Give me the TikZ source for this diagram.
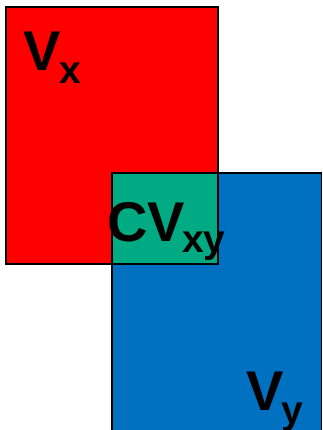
\documentclass[tikz,border=0pt]{standalone}
\usepackage{fontspec}
\setmainfont{Liberation Sans}
\usetikzlibrary{positioning}

\definecolor{setred}{HTML}{FF0000}
\definecolor{setblue}{HTML}{0070C0}
\definecolor{setgreen}{HTML}{00AB84}

\begin{document}
\begin{tikzpicture}[x=1pt, y=-1pt,
    setbox/.style={draw=black, line width=1.5pt},
    big/.style={inner sep=0pt, font=\fontsize{56}{60}\selectfont\bfseries},
    small/.style={inner sep=0pt, font=\fontsize{39}{42}\selectfont\bfseries}]

  \useasboundingbox (0,0) rectangle (322,430);

  %-------------------------
  % Sets
  %-------------------------
  \fill[setred] (6,7) rectangle (218,264);
  \draw[setbox] (6,7) rectangle (218,264);

  \fill[setblue] (112,173) rectangle (321.25,432);
  \draw[setbox] (112,432) -- (112,173) -- (321.25,173) -- (321.25,432);

  % overlap
  \fill[setgreen] (112,173) rectangle (218,264);

  %-------------------------
  % Labels
  %-------------------------
  \node[big, anchor=base west] (vx) at (23,71) {V};
  \node[small, anchor=base west] (vxsub) at ([xshift=-1pt, yshift=-13pt]vx.base east) {x};

  \node[big, anchor=base west] (cvxy) at (107,241) {CV};
  \node[small, anchor=base west] (cvxysub) at ([xshift=-3pt, yshift=-11pt]cvxy.base east) {x\kern-1pt y};

  \node[big, anchor=base west] (vy) at (246,410) {V};
  \node[small, anchor=base west] (vysub) at ([xshift=-2pt, yshift=-13pt]vy.base east) {y};

  % overlap outline on top
  \draw[setbox] (112,173) rectangle (218,264);

\end{tikzpicture}
\end{document}
